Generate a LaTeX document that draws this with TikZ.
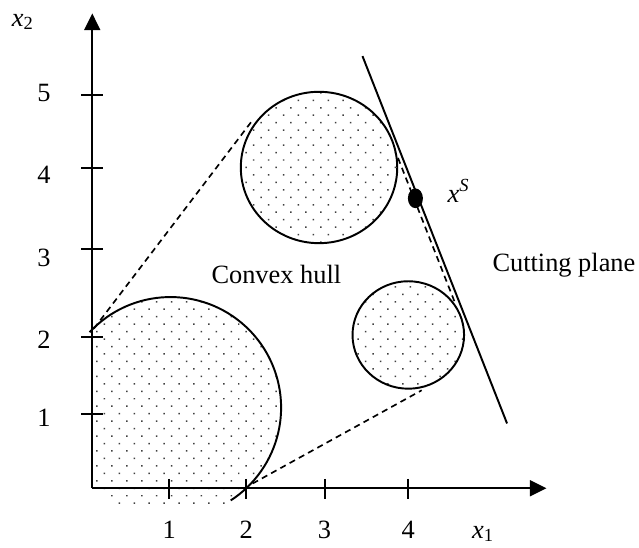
\documentclass[tikz,border=0pt]{standalone}
\usepackage{fontspec}
\setmainfont{Liberation Serif}
\usetikzlibrary{arrows.meta, patterns.meta, shapes.geometric}

\begin{document}
\begin{tikzpicture}[every node/.style={font=\fontsize{9.5}{11}\selectfont},
  axis/.style={line width=0.7pt, -{Triangle[length=2.1mm, width=2mm]}},
  rim/.style={line width=0.7pt},
  hull/.style={line width=0.6pt, dash pattern=on 2.2pt off 1.6pt},
  blob/.style={pattern={Dots[distance=3.8pt, angle=45, radius=0.38pt]}, pattern color=black!75}]
  \useasboundingbox (-1.168,-0.756) rectangle (6.92,6.18);

  % shaded sets
  \begin{scope}
    \clip (0,-0.19) rectangle (2.6,2.6);
    \fill[blob] (0.99,1.02) circle (1.40);
  \end{scope}
  \draw[rim] (0.99,1.02) ++(137:1.40) arc (137:-57:1.40);
  \fill[blob] (2.87,4.06) ellipse (0.99 and 0.958);
  \draw[rim] (2.87,4.06) ellipse (0.99 and 0.958);
  \fill[blob] (4.0,1.94) ellipse (0.706 and 0.68);
  \draw[rim] (4.0,1.94) ellipse (0.706 and 0.68);

  % axes
  \coordinate (O) at (0,0);
  \coordinate (xend) at (5.75,0);
  \coordinate (yend) at (0,6.01);
  \draw[axis] (O) -- (xend);
  \draw[axis] (O) -- (yend);
  \foreach \x/\lbl in {0.975/1, 1.95/2, 2.94/3, 4.0/4} {
    \draw[line width=0.7pt] (\x,0.12) -- (\x,-0.14);
    \node (xt\lbl) at (\x,-0.53) {\lbl};
  }
  \foreach \y/\ly/\lbl in {0.94/0.89/1, 1.92/1.88/2, 3.03/2.92/3, 4.05/3.97/4, 4.98/5.0/5} {
    \draw[line width=0.7pt] (-0.14,\y) -- (0.14,\y);
    \node (yt\lbl) at (-0.61,\ly) {\lbl};
  }
  \node (xlab) at (4.95,-0.58) {\textit{x}\textsubscript{1}};
  \node (ylab) at (-0.876,5.90) {\textit{x}\textsubscript{2}};

  % convex hull
  \coordinate (a0) at (0.02,2.02);
  \coordinate (a1) at (2.03,4.66);
  \coordinate (b0) at (2.03,0.06);
  \coordinate (b1) at (4.17,1.24);
  \coordinate (c0) at (3.87,4.18);
  \coordinate (c1) at (4.59,2.35);
  \draw[hull] (a0) -- (a1);
  \draw[hull] (b0) -- (b1);
  \draw[hull] (c0) -- (c1);

  % cut
  \coordinate (p0) at (3.42,5.47);
  \coordinate (p1) at (5.25,0.82);
  \draw[rim] (p0) -- (p1);
  \node (xs) [ellipse, fill, inner sep=0, minimum width=0.19cm, minimum height=0.25cm] at (4.09,3.67) {};
  \node (xslab) at (4.64,3.76) {\textit{x}\textsuperscript{\textit{S}}};

  \node (hull) at (2.33,2.71) {Convex hull};
  \node (cut) at (5.97,2.82) {Cutting plane};
\end{tikzpicture}
\end{document}
